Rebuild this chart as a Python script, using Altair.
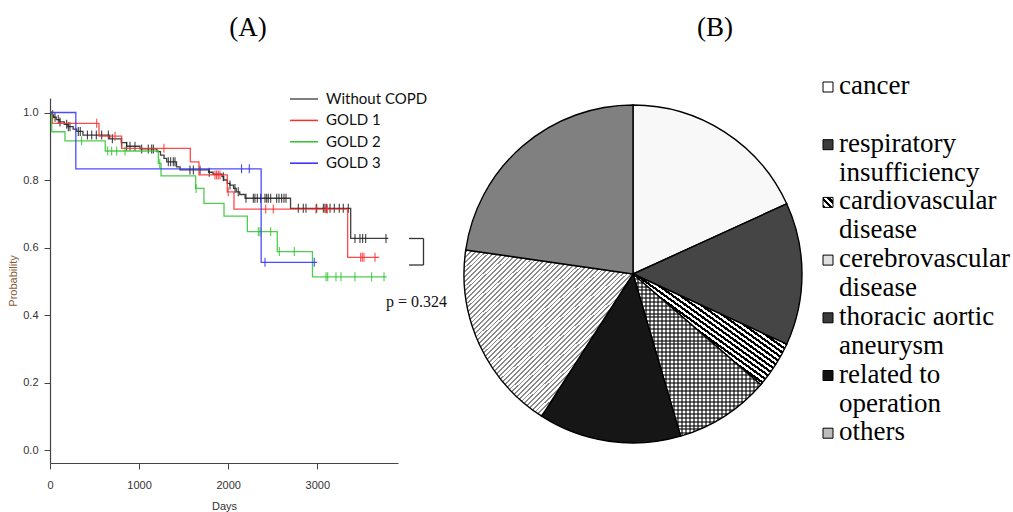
import math
import altair as alt
import pandas as pd

# ---------------- layout (pixels on the 1013x512 canvas) ----------------
W, H = 1013, 512
PL, PT, PW, PH = 50, 98, 348, 365          # KM plot area


def rx(px):
    return px - PL


def ry(py):
    return py - PT


# ---------------- Panel A : Kaplan-Meier data ----------------
groups = ["Without COPD", "GOLD 1", "GOLD 2", "GOLD 3"]
curve_colors = ["#1e1e1e", "#ff2b2b", "#2fc42f", "#2b2bff"]
legend_colors = ["#555555", "#ff2b2b", "#2fc42f", "#2b2bff"]

nocopd_days = [0, 15, 40, 70, 110, 160, 200, 260, 300, 370, 670, 800, 860, 1010, 1200,
               1240, 1280, 1310, 1420, 1460, 1780, 1830, 1930, 1950, 1990, 2020, 2060,
               2090, 2130, 2190, 2700, 3375, 3797]
nocopd_surv = [1.0, 0.993, 0.986, 0.979, 0.972, 0.965, 0.958, 0.951, 0.944, 0.933, 0.922,
               0.911, 0.900, 0.892, 0.884, 0.874, 0.864, 0.854, 0.839, 0.830, 0.823, 0.817,
               0.810, 0.800, 0.790, 0.785, 0.775, 0.765, 0.757, 0.746, 0.716, 0.627, 0.627]
nocopd_cens = [30, 56, 93, 112, 187, 206, 224, 318, 340, 420, 468, 520, 580, 655, 700, 804,
               860, 898, 954, 1029, 1103, 1141, 1160, 1328, 1354, 1384, 1403, 1571, 1609,
               1684, 1788, 1945, 2020, 2076, 2113, 2200, 2282, 2300, 2327, 2365, 2413, 2432,
               2450, 2477, 2544, 2570, 2600, 2626, 2649, 2787, 2843, 2873, 2993, 3068, 3086,
               3105, 3143, 3191, 3247, 3292, 3348, 3423, 3479, 3509, 3543, 3771]

gold1_days = [0, 26, 550, 804, 1575, 1672, 1990, 2065, 3341, 3696]
gold1_surv = [1.0, 0.968, 0.930, 0.894, 0.854, 0.815, 0.765, 0.714, 0.571, 0.571]
gold1_cens = [524, 730, 1279, 1852, 1870, 1889, 1908, 2000, 2421, 2506, 2985, 3098, 3112,
              3487, 3505, 3524, 3648]

gold2_days = [0, 20, 168, 620, 1216, 1246, 1635, 1728, 1953, 2215, 2551, 2946, 3779]
gold2_surv = [1.0, 0.943, 0.916, 0.886, 0.849, 0.812, 0.775, 0.731, 0.693, 0.647, 0.588,
              0.513, 0.513]
gold2_cens = [355, 647, 692, 748, 842, 1232, 1640, 2338, 2357, 2477, 2574, 2742, 3098, 3117,
              3210, 3266, 3423, 3610, 3749]

gold3_days = [0, 290, 2370, 3000]
gold3_surv = [1.0, 0.833, 0.556, 0.556]
gold3_cens = [2150, 2237, 2413, 2966]

days_ticks = [0, 1000, 2000, 3000]
prob_ticks = [0.0, 0.2, 0.4, 0.6, 0.8, 1.0]

# ---------------- Panel B : causes of death ----------------
causes = ["cancer", "respiratory insufficiency", "cardiovascular disease",
          "cerebrovascular disease", "thoracic aortic aneurysm", "related to operation",
          "others", "unknown"]
cause_counts = [4, 3, 1, 0, 2, 3, 4, 5]
legend_lines = ["cancer", "", "respiratory", "insufficiency", "cardiovascular", "disease",
                "cerebrovascular", "disease", "thoracic aortic", "aneurysm", "related to",
                "operation", "others"]


# ---------------- helpers ----------------
def surv_at(days, surv, d):
    v = surv[0]
    for t, s in zip(days, surv):
        if t <= d:
            v = s
    return v


def stripes(c1, c2, n, frac, x1, y1, x2, y2):
    stops = []
    for k in range(n):
        a = k / n
        b = (k + frac) / n
        c = (k + 1) / n
        stops += [alt.GradientStop(offset=a, color=c1), alt.GradientStop(offset=b, color=c1),
                  alt.GradientStop(offset=b, color=c2), alt.GradientStop(offset=c, color=c2)]
    return alt.LinearGradient(gradient="linear", stops=stops, x1=x1, y1=y1, x2=x2, y2=y2)


one = pd.DataFrame({"k": [0]})
SERIF = "Liberation Serif, Times New Roman, serif"

xs = alt.Scale(domain=[0, 3906], nice=False, zero=False)
ys = alt.Scale(domain=[-0.0385, 1.043], nice=False, zero=False)
xaxis = alt.Axis(values=days_ticks, format="d", title="Days", grid=False,
                 domainColor="#444444", tickColor="#444444", tickSize=6, domainWidth=1.2,
                 labelFont="Liberation Sans", labelFontSize=11, labelColor="#333333",
                 labelPadding=10, labelFlush=False, labelOverlap=False,
                 titleFont="Liberation Sans", titleFontSize=11, titleFontWeight="normal",
                 titleColor="#333333", titlePadding=10)
yaxis = alt.Axis(values=prob_ticks, format=".1f", title="Probability", grid=False,
                 domainColor="#444444", tickColor="#444444", tickSize=6, domainWidth=1.2,
                 labelFont="Liberation Sans", labelFontSize=11, labelColor="#333333",
                 labelPadding=6, labelFlush=False, labelOverlap=False,
                 titleFont="Liberation Sans", titleFontSize=11, titleFontWeight="normal",
                 titleColor="#8a5a3a", titlePadding=4)
X = alt.X("t:Q", scale=xs, axis=xaxis)
Y = alt.Y("s:Q", scale=ys, axis=yaxis)

layers = []
curves = [(nocopd_days, nocopd_surv, nocopd_cens), (gold1_days, gold1_surv, gold1_cens),
          (gold2_days, gold2_surv, gold2_cens), (gold3_days, gold3_surv, gold3_cens)]
for (d, s, cens), col in zip(curves, curve_colors):
    line_df = pd.DataFrame({"t": d, "s": s})
    layers.append(alt.Chart(line_df).mark_line(interpolate="step-after", color=col,
                                               strokeWidth=1.3, opacity=0.85)
                  .encode(x=X, y=Y))
    cens_df = pd.DataFrame({"t": cens, "s": [surv_at(d, s, v) for v in cens]})
    layers.append(alt.Chart(cens_df).mark_tick(orient="vertical", size=9, thickness=1.1,
                                               color=col, opacity=0.85)
                  .encode(x=X, y=Y))

# KM legend
for i, (g, col) in enumerate(zip(groups, legend_colors)):
    yy = 99 + 21.4 * i
    layers.append(alt.Chart(one).mark_rule(color=col, strokeWidth=1.5).encode(
        x=alt.value(rx(290)), x2=alt.value(rx(318)), y=alt.value(ry(yy))))
    layers.append(alt.Chart(one).mark_text(align="left", baseline="middle", font="Lato",
                                           fontSize=15, color="#111111").encode(
        x=alt.value(rx(326)), y=alt.value(ry(yy)), text=alt.value(g)))

# bracket and p value
for (xa, xb, ya, yb) in [(409, 423.5, 238.5, 238.5), (423.5, 423.5, 238.5, 265),
                         (409, 423.5, 265, 265)]:
    layers.append(alt.Chart(one).mark_rule(color="#333333", strokeWidth=1.3).encode(
        x=alt.value(rx(xa)), x2=alt.value(rx(xb)), y=alt.value(ry(ya)), y2=alt.value(ry(yb))))
layers.append(alt.Chart(one).mark_text(align="left", baseline="middle", font=SERIF,
                                       fontSize=16, color="#111111").encode(
    x=alt.value(rx(386)), y=alt.value(ry(302)), text=alt.value("p = 0.324")))

# panel titles
for lab, cx in [("(A)", 248), ("(B)", 715)]:
    layers.append(alt.Chart(one).mark_text(align="center", baseline="middle", font=SERIF,
                                           fontSize=27, color="#000000").encode(
        x=alt.value(rx(cx)), y=alt.value(ry(28)), text=alt.value(lab)))

# ---------------- pie ----------------
pie_df = pd.DataFrame({"cause": causes, "n": cause_counts})
pie_df["end"] = pie_df["n"].cumsum()
pie_df["start"] = pie_df["end"] - pie_df["n"]
total = float(sum(cause_counts))
theta = alt.Theta("start:Q", scale=alt.Scale(domain=[0, total], range=[0, 2 * math.pi]))
theta2 = alt.Theta2("end:Q")
CX, CY, R = 633, 274, 169

fills = {
    "cancer": "#f8f8f8",
    "respiratory insufficiency": "#454545",
    "cardiovascular disease": stripes("#000000", "#ffffff", 40, 0.5, 0, 1, 1, 0),
    "cerebrovascular disease": "#e6e6e6",
    "thoracic aortic aneurysm": None,
    "related to operation": "#161616",
    "others": stripes("#ffffff", "#8a8a8a", 70, 0.62, 0, 0, 1, 1),
    "unknown": "#808080",
}

for cause, n in zip(causes, cause_counts):
    if n == 0:
        continue
    base = alt.Chart(pie_df).transform_filter(alt.datum.cause == cause)
    enc = dict(theta=theta, theta2=theta2, x=alt.value(rx(CX)), y=alt.value(ry(CY)))
    f = fills[cause]
    if f is None:
        layers.append(base.mark_arc(radius=R, fill="#ffffff").encode(**enc))
        layers.append(base.mark_arc(radius=R, fill=stripes("rgba(0,0,0,0.55)", "rgba(0,0,0,0)",
                                                           32, 0.5, 0, 0, 1, 0)).encode(**enc))
        layers.append(base.mark_arc(radius=R, fill=stripes("rgba(0,0,0,0.55)", "rgba(0,0,0,0)",
                                                           42, 0.5, 0, 0, 0, 1),
                                    stroke="#000000", strokeWidth=1.4).encode(**enc))
    else:
        layers.append(base.mark_arc(radius=R, fill=f, stroke="#000000",
                                    strokeWidth=1.4).encode(**enc))

# pie legend: squares + text
square_fills = ["#ffffff", "#3c3c3c", stripes("#000000", "#ffffff", 3, 0.5, 0, 1, 1, 0),
                "#e0e0e0", "#3a3a3a", "#111111", "#bdbdbd"]
for k, sf in enumerate(square_fills):
    cy = 87 + 57.7 * k
    layers.append(alt.Chart(one).mark_rect(fill=sf, stroke="#000000", strokeWidth=1).encode(
        x=alt.value(rx(823)), x2=alt.value(rx(833)),
        y=alt.value(ry(cy - 5)), y2=alt.value(ry(cy + 5))))
for i, txt in enumerate(legend_lines):
    if not txt:
        continue
    layers.append(alt.Chart(one).mark_text(align="left", baseline="alphabetic", font=SERIF,
                                           fontSize=27, color="#000000").encode(
        x=alt.value(rx(839)), y=alt.value(ry(94 + 28.87 * i)), text=alt.value(txt)))

chart = (alt.layer(*layers)
         .properties(width=PW, height=PH,
                     padding={"left": PL, "top": PT, "right": W - PL - PW,
                              "bottom": H - PT - PH},
                     autosize=alt.AutoSizeParams(type="none"),
                     background="#ffffff")
         .configure_view(stroke=None))

chart.save("out.html", embed_options={"renderer": "svg", "actions": False})
